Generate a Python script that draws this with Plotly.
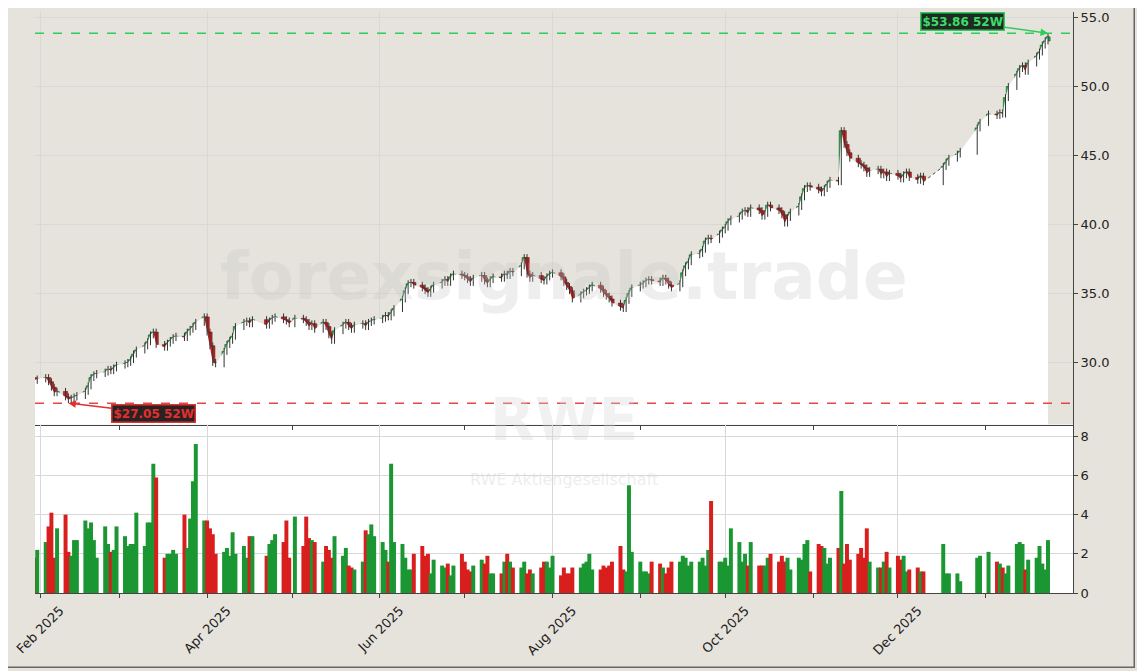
import pandas as pd
import plotly.graph_objects as go
from plotly.subplots import make_subplots

# daily closes (EUR), month by month
close = [
    28.9, 28.7, 28.8,
    28.9, 28.6, 28.2, 27.8, 27.9, 27.5, 27.3, 27.4, 27.5, 27.6, 27.9, 28.3, 28.9, 29.1, 29.2, 29.3, 29.5, 29.4, 29.6, 29.8,
    29.9, 30.0, 30.2, 30.6, 30.9, 31.2, 31.5, 32.0, 32.2, 31.3, 31.1, 31.4, 31.6, 31.8, 31.9, 31.8, 32.2, 32.4, 32.6, 32.9, 33.3,
    32.2, 31.2, 30.0, 29.9, 30.8, 31.3, 31.6, 31.9, 32.6, 32.9, 33.0, 32.8, 33.1, 32.7, 33.0, 33.2, 33.3, 33.1, 33.0, 32.8,
    33.2, 33.1, 32.9, 32.6, 32.8, 32.4, 32.9, 32.6, 32.0, 31.6, 32.3, 32.7, 32.9, 32.6, 32.4, 32.7, 32.8, 32.6, 32.9, 33.0, 33.1,
    33.2, 33.4, 33.3, 33.6, 33.9, 34.6, 35.2, 35.7, 35.8, 35.6, 35.4, 35.2, 35.0, 35.3, 35.6, 35.8, 36.0, 35.8, 36.2, 36.4, 36.3,
    36.2, 36.0, 35.8, 36.1, 36.3, 35.9, 35.7, 36.0, 36.2, 36.1, 36.4, 36.3, 36.6, 36.5, 37.0, 37.6, 36.4, 36.1, 36.3, 36.0, 35.9, 36.2, 36.4,
    36.5, 36.2, 35.8, 35.5, 35.2, 34.6, 34.9, 35.1, 35.2, 35.4, 35.6, 35.3, 35.0, 34.8, 34.6, 34.3, 34.0, 33.9, 34.5, 35.0, 35.4,
    35.6, 35.7, 35.9, 36.0, 35.9, 35.8, 36.1, 35.9, 35.6, 35.4, 35.7, 36.5, 37.0, 37.3, 37.8, 37.9, 38.2, 38.8, 39.0, 38.9, 39.3, 39.6,
    39.8, 40.2, 40.4, 40.6, 40.9, 41.0, 40.8, 41.2, 41.0, 40.6, 40.8, 41.4, 41.2, 41.0, 40.7, 40.1, 40.5, 40.9, 41.3, 42.0, 42.6, 42.8, 42.7,
    42.5, 42.3, 42.6, 42.9, 43.2, 43.1, 46.8, 45.8, 45.2, 44.8, 44.4, 44.3, 44.1, 43.7, 43.9, 44.0, 43.6, 43.8, 43.4, 43.7,
    43.5, 43.3, 43.6, 43.8, 43.4, 43.2, 43.5, 43.1,
    44.2, 44.5, 44.8, 45.1, 45.3, 47.0, 47.4,
    48.0, 47.9, 48.1, 48.0, 49.2, 50.0, 50.9, 51.3, 51.5, 51.1, 51.7, 52.2, 52.5, 53.0, 53.3, 53.6,
]

# volume in millions
volume = [
    2.0, 1.8, 2.2,
    2.6, 3.4, 4.1, 1.8, 3.3, 4.0, 2.1, 1.9, 2.7, 2.7, 3.7, 3.3, 3.6, 2.7, 1.8, 3.4, 2.5, 2.1, 2.2, 3.4,
    2.9, 2.4, 2.5, 2.5, 4.1, 2.4, 3.6, 3.6, 6.6, 5.9, 1.8, 2.0, 2.0, 2.2, 2.0, 4.0, 2.3, 3.8, 5.7, 7.6, 3.7,
    3.7, 3.3, 3.0, 2.0, 2.1, 2.3, 1.9, 3.1, 2.0, 2.4, 1.8, 2.9, 2.9, 1.9, 2.5, 2.7, 3.0, 2.6, 3.7, 1.8,
    3.9, 2.4, 3.9, 2.8, 2.7, 2.6, 1.6, 2.4, 2.2, 1.8, 2.9, 1.9, 2.3, 1.4, 1.3, 1.2, 1.6, 3.2, 3.0, 3.5, 2.9,
    2.6, 2.2, 1.6, 6.6, 2.6, 2.5, 1.8, 1.2, 1.2, 2.0, 2.4, 1.9, 2.0, 1.0, 1.7, 1.4, 1.3, 1.5, 0.9, 1.4, 2.0,
    1.6, 1.2, 1.1, 1.4, 1.7, 1.5, 1.9, 1.0, 1.0, 1.0, 1.6, 2.0, 1.6, 1.3, 1.3, 1.6, 1.0, 1.2, 1.0, 1.3, 1.6, 1.6, 1.3,
    1.9, 0.9, 1.3, 1.0, 1.0, 1.3, 1.3, 1.5, 1.6, 2.0, 1.2, 1.2, 1.4, 1.3, 1.4, 1.6, 2.4, 1.2, 1.1, 5.5, 2.1,
    1.6, 1.1, 1.1, 1.0, 1.6, 1.5, 1.3, 1.0, 1.3, 1.6, 1.6, 1.9, 1.8, 1.4, 1.6, 1.6, 1.8, 1.4, 2.2, 4.7, 1.6, 1.6,
    1.8, 1.4, 3.3, 2.6, 1.6, 2.0, 1.4, 2.6, 1.4, 1.4, 1.4, 1.8, 2.0, 1.6, 1.9, 1.6, 1.8, 1.2, 1.8, 1.7, 2.5, 2.7, 1.1,
    2.5, 2.4, 2.3, 1.5, 1.8, 2.3, 5.2, 1.5, 2.5, 1.7, 2.0, 2.3, 1.8, 3.3, 1.6, 1.3, 1.3, 1.6, 2.1, 1.3,
    1.9, 1.7, 1.9, 1.1, 1.2, 1.3, 1.1, 1.1,
    2.5, 1.0, 1.0, 1.0, 0.6, 1.8, 1.9,
    2.1, 1.6, 1.5, 1.3, 1.0, 1.4, 2.5, 2.6, 2.5, 1.2, 1.7, 1.8, 2.4, 1.5, 1.2, 2.7,
]

high_52w = 53.86
low_52w = 27.05
holidays = ["2025-04-18", "2025-04-21", "2025-05-01", "2025-12-24", "2025-12-25",
            "2025-12-26", "2025-12-31", "2026-01-01"]
missing = pd.bdate_range("2025-12-11", "2025-12-16")  # no data in this stretch

dates = pd.bdate_range("2025-01-29", "2026-01-23")
dates = dates[~dates.isin(pd.to_datetime(holidays)) & ~dates.isin(missing)]
n = min(len(dates), len(close), len(volume))
df = pd.DataFrame({"date": dates[:n], "close": close[:n], "volume": volume[:n]})
df["open"] = df["close"].shift(1).fillna(df["close"])
df["high"] = df[["open", "close"]].max(axis=1) + 0.25
df["low"] = df[["open", "close"]].min(axis=1) - 0.25
i_lo = df["low"].idxmin()
i_hi = df["high"].idxmax()
df.loc[i_lo, "low"] = low_52w
df.loc[i_hi, "high"] = high_52w
df["up"] = df["close"] >= df["open"]

UP = "#1a9632"
DOWN = "#d91e1e"
BG = "#e6e3dc"
DAY = 86400000

fig = make_subplots(rows=2, cols=1, shared_xaxes=True, row_heights=[0.71, 0.29],
                    vertical_spacing=0)

# white area under the close
fig.add_trace(go.Scatter(x=df["date"], y=df["close"], mode="lines", line=dict(width=0),
                         fill="tozeroy", fillcolor="white", hoverinfo="skip",
                         showlegend=False), row=1, col=1)

# dotted bridge over the data gap
gap = df[(df["date"] >= "2025-12-10") & (df["date"] <= "2025-12-17")]
fig.add_trace(go.Scatter(x=gap["date"], y=gap["close"], mode="lines",
                         line=dict(color="#444", width=1, dash="dot"), showlegend=False),
              row=1, col=1)

# candle wicks
wx, wy = [], []
for d, lo, hi in zip(df["date"], df["low"], df["high"]):
    wx += [d, d, None]
    wy += [lo, hi, None]
fig.add_trace(go.Scatter(x=wx, y=wy, mode="lines", line=dict(color="#333", width=1),
                         hoverinfo="skip", showlegend=False), row=1, col=1)

# candle bodies
for up, fill, edge in [(True, "#2aa84a", "#0f5a22"), (False, "#c42222", "#6b1010")]:
    sub = df[df["up"] == up]
    body = (sub["close"] - sub["open"]).abs().clip(lower=0.06)
    fig.add_trace(go.Bar(x=sub["date"], y=body, base=sub[["open", "close"]].min(axis=1),
                         width=DAY * 1.5, marker=dict(color=fill, line=dict(color=edge, width=0.6)),
                         showlegend=False), row=1, col=1)

vol_colors = [UP if u else DOWN for u in df["up"]]
fig.add_trace(go.Bar(x=df["date"], y=df["volume"], width=DAY * 1.4,
                     marker=dict(color=vol_colors, line_width=0),
                     showlegend=False), row=2, col=1)

fig.add_hline(y=high_52w, line=dict(color="#2ecc5a", width=1.5, dash="dash"), row=1, col=1)
fig.add_hline(y=low_52w, line=dict(color="#e04848", width=1.5, dash="dash"), row=1, col=1)

fig.add_annotation(x=df.loc[i_hi, "date"], y=high_52w, ax=-85, ay=-12, xref="x", yref="y",
                   text=f"<b>${high_52w:.2f} 52W</b>", showarrow=True, arrowhead=2,
                   arrowcolor="#2ecc5a", arrowwidth=1.5,
                   font=dict(color="#3ddc6a", size=12, family="DejaVu Sans"),
                   bgcolor="#1e2a22", bordercolor="#2ecc5a", borderwidth=1.5)
fig.add_annotation(x=df.loc[i_lo, "date"], y=low_52w, ax=85, ay=10, xref="x", yref="y",
                   text=f"<b>${low_52w:.2f} 52W</b>", showarrow=True, arrowhead=2,
                   arrowcolor="#e03030", arrowwidth=1.5,
                   font=dict(color="#e23030", size=12, family="DejaVu Sans"),
                   bgcolor="#2a2222", bordercolor="#e03030", borderwidth=1.5)

# watermarks
fig.add_annotation(x=0.51, y=0.545, xref="paper", yref="paper", showarrow=False,
                   text="<b>forexsignale.trade</b>", font=dict(size=66, color="rgba(200,200,200,0.3)"))
fig.add_annotation(x=0.51, y=0.235, xref="paper", yref="paper", showarrow=False,
                   text="<b>RWE</b>", font=dict(size=58, color="rgba(215,215,215,0.35)"))
fig.add_annotation(x=0.51, y=0.175, xref="paper", yref="paper", showarrow=False,
                   text="RWE Aktiengesellschaft", font=dict(size=16, color="rgba(215,215,215,0.45)"))

# white volume panel and outer frame
fig.add_shape(type="rect", xref="x domain", yref="y2 domain", x0=0, x1=1, y0=0, y1=1,
              fillcolor="white", line_width=0, layer="below")
fig.add_shape(type="rect", xref="paper", yref="paper", x0=-0.0327, x1=1.059, y0=-0.128, y1=1.03,
              line=dict(color="#666", width=1.5))

fig.update_layout(
    width=1145, height=671, margin=dict(l=27, r=80, t=4, b=86, autoexpand=False),
    paper_bgcolor=BG, plot_bgcolor=BG, bargap=0.1, barmode="overlay",
    font=dict(family="DejaVu Sans", size=12, color="#222"),
)
axis_style = dict(showgrid=True, gridcolor="#d8d8d8", linecolor="#444", showline=True,
                  mirror=False, ticks="outside", ticklen=4)
fig.update_xaxes(range=["2025-01-30 05:00", "2026-01-31 20:00"], dtick="M2", tick0="2025-02-01",
                 tickformat="%b %Y", tickangle=-45, ticklabeloverflow="allow",
                 ticklabelshift=20, tickfont=dict(size=13),
                 minor=dict(dtick="M1", tick0="2025-02-01", ticks="outside", ticklen=4,
                            showgrid=False),
                 **axis_style)
fig.update_xaxes(showticklabels=False, row=1, col=1)
fig.update_yaxes(side="right", **axis_style)
fig.update_yaxes(range=[25.5, 55.4], dtick=5, tickformat=".1f", tickfont=dict(size=13),
                 row=1, col=1)
fig.update_yaxes(range=[0, 8.6], dtick=2, tickfont=dict(size=13), row=2, col=1)

fig.write_html("out.html")
